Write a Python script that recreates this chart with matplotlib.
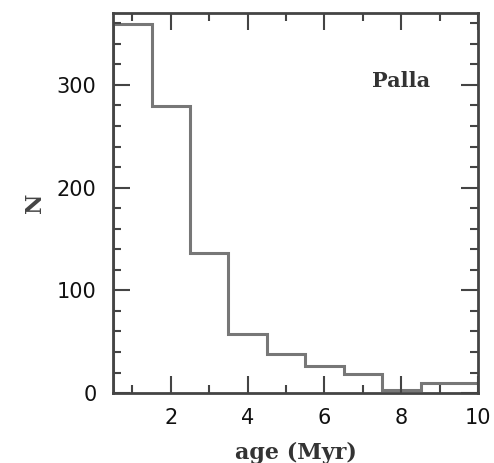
import numpy as np
import matplotlib
matplotlib.use("Agg")
from matplotlib import pyplot as plt
from matplotlib.ticker import MultipleLocator

# Age histogram (bins of 1 Myr)
bin_edges = [0.5, 1.5, 2.5, 3.5, 4.5, 5.5, 6.5, 7.5, 8.5, 9.5, 10.5]
counts = [359, 279, 136, 58, 38, 26, 19, 3, 10, 10]

fig = plt.figure(figsize=(4.94, 4.63), dpi=100)
ax = fig.add_axes([0.229, 0.151, 0.739, 0.821])

ax.stairs(counts, bin_edges, color="#777777", linewidth=2.2)

ax.set_xlim(0.5, 10)
ax.set_ylim(0, 370)

ax.xaxis.set_major_locator(MultipleLocator(2))
ax.xaxis.set_minor_locator(MultipleLocator(1))
ax.yaxis.set_major_locator(MultipleLocator(100))
ax.yaxis.set_minor_locator(MultipleLocator(20))
ax.tick_params(which="both", direction="in", top=True, right=True,
               color="#444444", width=1.5)
ax.tick_params(which="major", length=12)
ax.tick_params(which="minor", length=6)
ax.tick_params(axis="y", labelsize=15, pad=12)
ax.tick_params(axis="x", labelsize=15, pad=11)
for lab in ax.get_xticklabels() + ax.get_yticklabels():
    lab.set_color("#111111")
for sp in ax.spines.values():
    sp.set_linewidth(2)
    sp.set_color("#444444")

ax.set_xlabel("age (Myr)", family="DejaVu Serif", fontsize=16,
              fontweight="bold", color="#333333", labelpad=10)
ax.set_ylabel("N", family="DejaVu Serif", fontsize=16, fontweight="bold",
              color="#444444", labelpad=8)
ax.text(8.0, 304, "Palla", family="DejaVu Serif", fontsize=15,
        fontweight="bold", color="#333333", ha="center", va="center")

fig.savefig("out.png", dpi=100)
